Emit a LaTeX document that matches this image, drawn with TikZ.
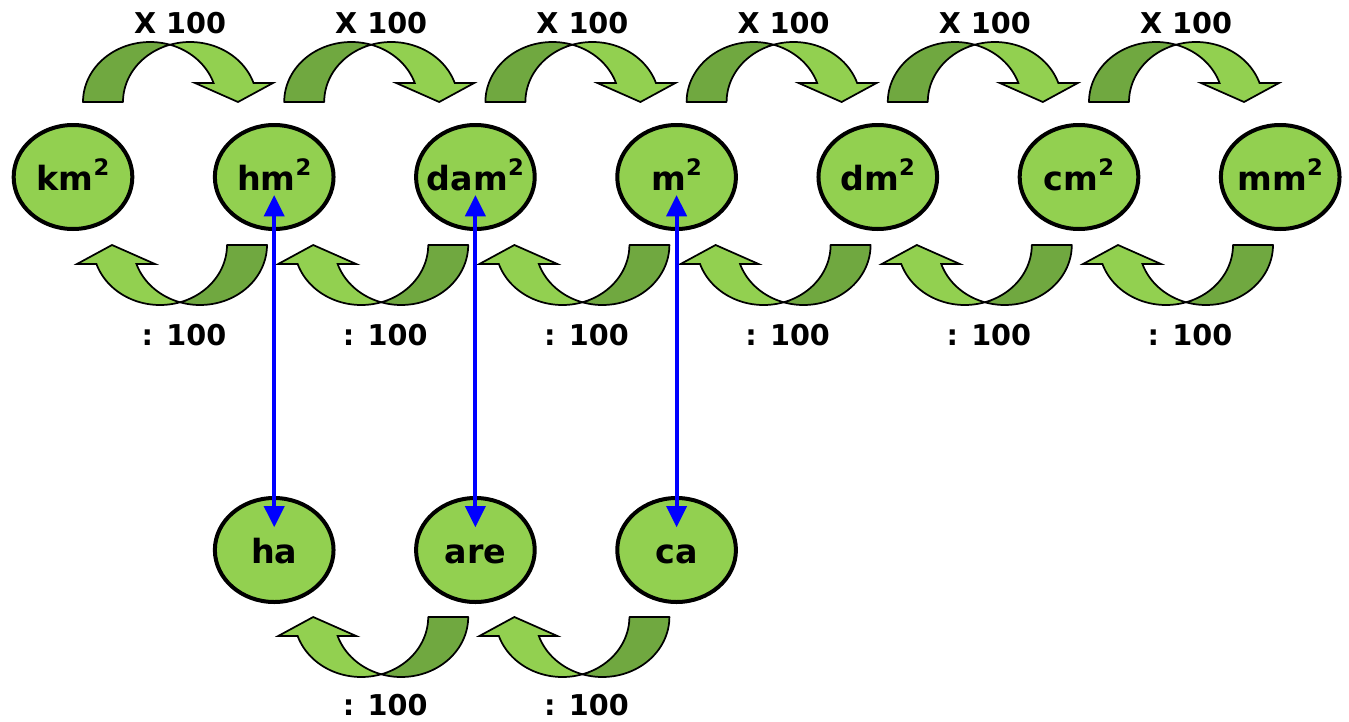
\documentclass[tikz,border=0pt]{standalone}
\usepackage{fontspec}
\setmainfont{DejaVu Sans}
\usetikzlibrary{shapes.geometric,arrows.meta}
\definecolor{lgreen}{RGB}{146,208,80}
\definecolor{dgreen}{RGB}{112,168,64}
\definecolor{bluearr}{RGB}{0,0,255}
\newcommand{\supsq}{\raisebox{11pt}{\fontsize{17}{17}\selectfont 2}}
\newcommand{\ulabel}[1]{\makebox[0pt]{#1}}
\tikzset{
 unit/.style={ellipse, draw=black, line width=3pt, fill=lgreen, minimum width=89pt, minimum height=78pt, inner sep=0pt, text height=20pt, text depth=0pt, font=\fontsize{25}{30}\selectfont\bfseries},
 lbl/.style={anchor=base, font=\fontsize{21.5}{26}\selectfont\bfseries, inner sep=0pt},
 darkpart/.style={fill=dgreen, draw=black, line width=1.3pt, line join=round},
 lightpart/.style={fill=lgreen, draw=black, line width=1.3pt, line join=miter},
 link/.style={draw=bluearr, line width=3pt, {Triangle[width=15pt,length=16pt]}-{Triangle[width=15pt,length=16pt]}},
 curvarrow/.pic={
   \filldraw[darkpart] plot[domain=180:287.4,samples=40] ({67*cos(\x)},{60*sin(\x)}) -- plot[domain=252.6:180,samples=40] ({40+67*cos(\x)},{60*sin(\x)}) -- cycle;
   \filldraw[lightpart] plot[domain=252.6:341.5,samples=40] ({40+67*cos(\x)},{60*sin(\x)}) -- (123,-19) -- (88,0) -- (45,-19) -- plot[domain=341.5:287.4,samples=40] ({67*cos(\x)},{60*sin(\x)}) -- cycle;
 }
}
\begin{document}
\begin{tikzpicture}[x=0.75pt,y=-0.75pt]
\useasboundingbox (0,0) rectangle (1349,721);
\foreach \i in {0,...,5} {
  \begin{scope}[shift={({150+201.2*\i},102)}]
    \pic[transform shape] {curvarrow};
  \end{scope}
  \begin{scope}[shift={({200+201.2*\i},245)},rotate=180]
    \pic[transform shape] {curvarrow};
  \end{scope}
  \node[lbl] (up\i) at ({180+201.2*\i},33) {X 100};
  \node[lbl] (dn\i) at ({184+201.2*\i},345) {: 100};
}
\foreach \i in {1,2} {
  \begin{scope}[shift={({200+201.2*\i},617)},rotate=180]
    \pic[transform shape] {curvarrow};
  \end{scope}
  \node[lbl] (bd\i) at ({184+201.2*\i},715) {: 100};
}
\node[unit] (km) at (73,177) {\ulabel{km\supsq}};
\node[unit] (hm) at (274.2,177) {\ulabel{hm\supsq}};
\node[unit] (dam) at (475.4,177) {\ulabel{dam\supsq}};
\node[unit] (m) at (676.6,177) {\ulabel{m\supsq}};
\node[unit] (dm) at (877.8,177) {\ulabel{dm\supsq}};
\node[unit] (cm) at (1079,177) {\ulabel{cm\supsq}};
\node[unit] (mm) at (1280.2,177) {\ulabel{mm\supsq}};
\node[unit] (ha) at (274.2,550) {\ulabel{ha}};
\node[unit] (are) at (475.4,550) {\ulabel{are}};
\node[unit] (ca) at (676.6,550) {\ulabel{ca}};
\draw[link] ([yshift=-13.5pt]hm.center) -- ([yshift=17pt]ha.center);
\draw[link] ([yshift=-13.5pt]dam.center) -- ([yshift=17pt]are.center);
\draw[link] ([yshift=-13.5pt]m.center) -- ([yshift=17pt]ca.center);
\end{tikzpicture}
\end{document}
